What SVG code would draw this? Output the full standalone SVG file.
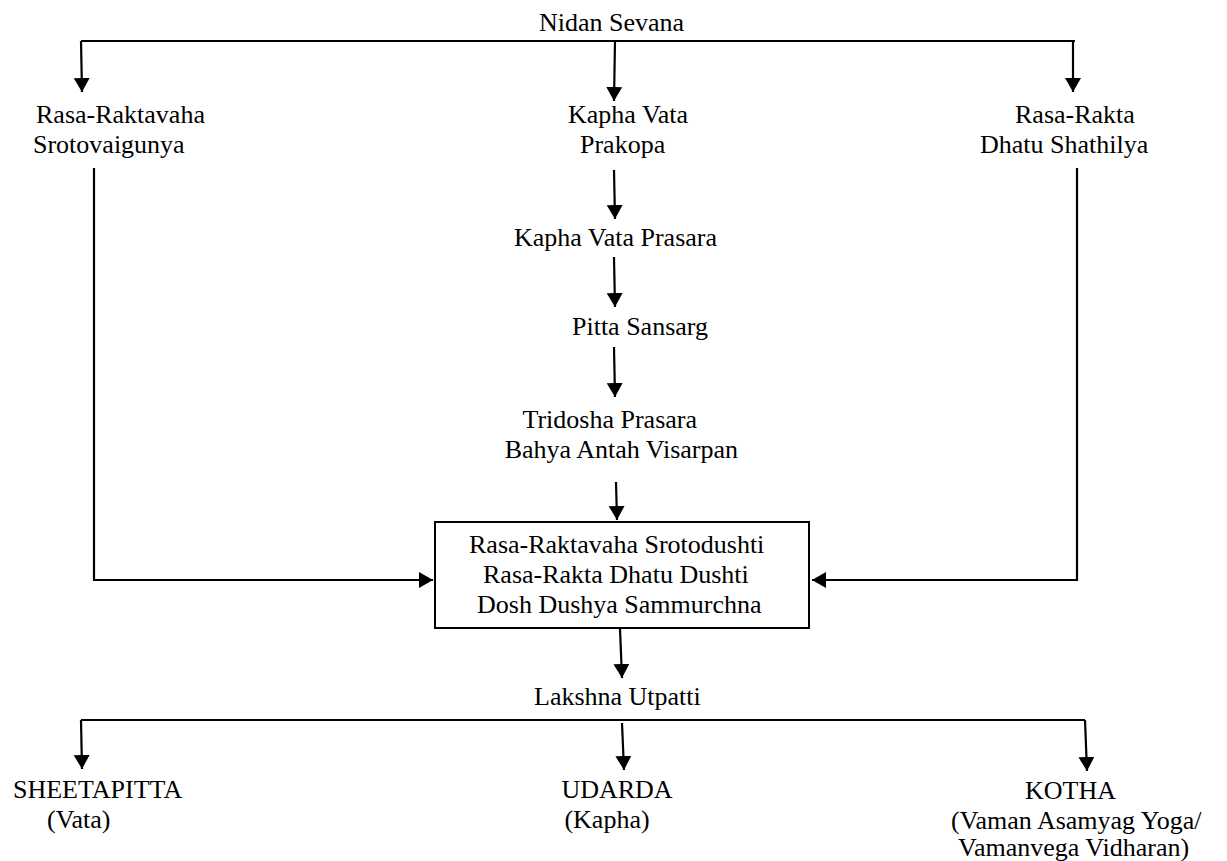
<svg xmlns="http://www.w3.org/2000/svg" width="1227" height="861" viewBox="0 0 1227 861">
<style>
.t { font-family: 'Liberation Serif', 'Times New Roman', serif; font-size: 26px; fill: #000; }
.c { fill: none; stroke: #000; stroke-width: 2.2; }
.a { marker-end: url(#ah); }
</style>
<defs>
<marker id="ah" markerUnits="userSpaceOnUse" markerWidth="16" markerHeight="17" refX="14" refY="8" orient="auto" viewBox="0 0 16 17">
<path d="M0,0 L14,8 L0,16 z" fill="#000"/>
</marker>
</defs>
<rect width="1227" height="861" fill="#fff"/>
<g id="connectors">
<path class="c" d="M81,41 L1075,41"/>
<path class="c a" d="M81,41 L82,92"/>
<path class="c a" d="M615,41 L614,101"/>
<path class="c a" d="M1073,41 L1073,92"/>
<path class="c a" d="M614,170 L615,219"/>
<path class="c a" d="M614,257 L615,307"/>
<path class="c a" d="M614,347 L615,397"/>
<path class="c a" d="M616,482 L617,520"/>
<path class="c a" d="M94,168 L94,580 L433,580"/>
<path class="c a" d="M1077,168 L1077,580 L812,580"/>
<path class="c a" d="M620,629 L622,678"/>
<path class="c" d="M81,720 L1085,720"/>
<path class="c a" d="M81,720 L82,769"/>
<path class="c a" d="M622,723 L624,770"/>
<path class="c a" d="M1085,720 L1087,771"/>
</g>
<g class="t">
<g id="n-nidan"><text x="539" y="31">Nidan Sevana</text></g>
<g id="n-srotovaigunya"><text x="36" y="123">Rasa-Raktavaha</text><text x="33" y="153">Srotovaigunya</text></g>
<g id="n-prakopa"><text x="568" y="123">Kapha Vata</text><text x="580" y="153">Prakopa</text></g>
<g id="n-shathilya"><text x="1015" y="123">Rasa-Rakta</text><text x="980" y="153">Dhatu Shathilya</text></g>
<g id="n-prasara"><text x="717" y="246" text-anchor="end">Kapha Vata Prasara</text></g>
<g id="n-pitta"><text x="708" y="335" text-anchor="end">Pitta Sansarg</text></g>
<g id="n-tridosha"><text x="697" y="428" text-anchor="end">Tridosha Prasara</text><text x="738" y="458" text-anchor="end">Bahya Antah Visarpan</text></g>
<g id="n-box">
<rect x="435" y="522" width="374" height="106" fill="#fff" stroke="#000" stroke-width="2"/>
<text x="469" y="553">Rasa-Raktavaha Srotodushti</text>
<text x="483" y="583">Rasa-Rakta Dhatu Dushti</text>
<text x="477" y="613">Dosh Dushya Sammurchna</text>
</g>
<g id="n-lakshna"><text x="534" y="705">Lakshna Utpatti</text></g>
<g id="n-sheetapitta"><text x="13" y="798">SHEETAPITTA</text><text x="47" y="828">(Vata)</text></g>
<g id="n-udarda"><text x="617" y="798" text-anchor="middle">UDARDA</text><text x="607" y="828" text-anchor="middle">(Kapha)</text></g>
<g id="n-kotha"><text x="1025" y="799">KOTHA</text><text x="951" y="829">(Vaman Asamyag Yoga/</text><text x="958" y="856">Vamanvega Vidharan)</text></g>
</g>
</svg>
